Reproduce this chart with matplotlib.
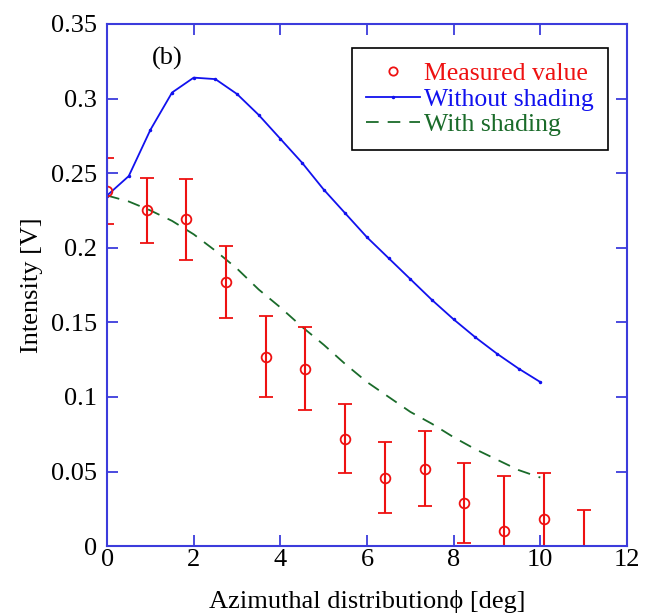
import numpy as np
import matplotlib
matplotlib.use("Agg")
import matplotlib.pyplot as plt
from matplotlib.lines import Line2D

plt.rcParams['font.family'] = ['Liberation Serif', 'DejaVu Serif']

# measured points (phi in deg, intensity in V, symmetric error)
meas_x = [0, 0.92, 1.83, 2.75, 3.67, 4.58, 5.5, 6.42, 7.33, 8.25, 9.17, 10.08, 11.0]
meas_y = [0.238, 0.225, 0.219, 0.177, 0.127, 0.119, 0.072, 0.046, 0.052, 0.029, 0.010, 0.018, -0.006]
meas_err = [0.022, 0.022, 0.027, 0.024, 0.027, 0.028, 0.023, 0.024, 0.025, 0.027, 0.037, 0.031, 0.030]

# calculated curves
calc_x = [0, 0.5, 1, 1.5, 2, 2.5, 3, 3.5, 4, 4.5, 5, 5.5, 6, 6.5, 7, 7.5, 8, 8.5, 9, 9.5, 10]
no_shade = [0.235, 0.248, 0.279, 0.304, 0.314, 0.313, 0.303, 0.289, 0.273, 0.257, 0.239, 0.223,
            0.207, 0.193, 0.179, 0.165, 0.152, 0.140, 0.129, 0.119, 0.110]
with_shade = [0.235, 0.231, 0.225, 0.218, 0.209, 0.198, 0.186, 0.172, 0.160, 0.147, 0.135, 0.122,
              0.110, 0.100, 0.090, 0.082, 0.073, 0.065, 0.058, 0.051, 0.046]

red = '#ee1111'
blue = '#1111ee'
green = '#1a6b2a'
spine = '#3c3cdc'

fig = plt.figure(figsize=(6.45, 6.13), dpi=100)
ax = fig.add_axes([0.166, 0.109, 0.806, 0.852])

l_blue, = ax.plot(calc_x, no_shade, color=blue, lw=1.3, marker='.', markersize=3)
l_green, = ax.plot(calc_x, with_shade, color=green, lw=1.3, linestyle=(0, (7, 5)))
ax.errorbar(meas_x, meas_y, yerr=meas_err, fmt='o', color=red, mfc='none', mec=red,
            markersize=7, mew=1.3, elinewidth=1.5, capsize=5, capthick=1.3)

ax.set_xlim(0, 12)
ax.set_ylim(0, 0.35)
ax.set_xticks(np.arange(0, 13, 2))
ax.set_yticks(np.arange(0, 0.351, 0.05))
ax.set_yticklabels(['0', '0.05', '0.1', '0.15', '0.2', '0.25', '0.3', '0.35'])

for s in ax.spines.values():
    s.set_color(spine)
    s.set_linewidth(1.5)
ax.tick_params(direction='in', length=8, width=1.3, color=spine, labelsize=19,
               top=True, right=True)
ax.tick_params(axis='y', pad=7)
ax.tick_params(axis='x', pad=2)

ax.set_xlabel('Azimuthal distribution\u03d5 [deg]', fontsize=19, labelpad=14)
ax.set_ylabel('Intensity [V]', fontsize=19, labelpad=6)

ax.text(1.38, 0.327, '(b)', fontsize=19, ha='center', va='center')

# legend shows just the circle for the measured points
h_meas = Line2D([], [], linestyle='none', marker='o', markersize=6, mfc='none', mec=red, mew=1.3)
leg = ax.legend([h_meas, l_blue, l_green], ['Measured value', 'Without shading', 'With shading'],
                loc='upper right', bbox_to_anchor=(0.963, 0.954), borderaxespad=0, fontsize=18.5,
                frameon=True, fancybox=False, framealpha=1, edgecolor='black',
                handlelength=2.1, handletextpad=0.15, borderpad=0.55, labelspacing=0.1)
leg.get_frame().set_linewidth(1.2)
for t, c in zip(leg.get_texts(), [red, blue, green]):
    t.set_color(c)

plt.savefig('out.png', dpi=100)
plt.close()
